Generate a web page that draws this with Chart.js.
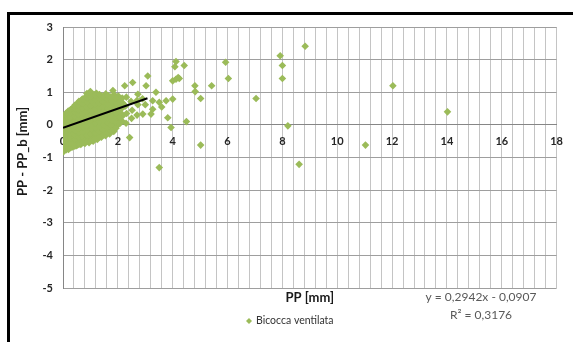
<!DOCTYPE html>
<html lang="it">
<head>
  <meta charset="UTF-8">
  <title>PP - PP_b vs PP</title>
  <style>
    html, body { margin: 0; padding: 0; background: #fff; }
    .chart-box { position: relative; width: 573px; height: 342px; }
  </style>
</head>
<body>
  <div class="chart-box"><canvas id="scatterChart" width="573" height="342"></canvas></div>
  <script src="https://cdn.jsdelivr.net/npm/chart.js"></script>
  <script>
    // dense cloud near the origin (column by column)
    const clusterPoints = [
      [0.02,-0.82],[0.05,-0.7],[0.03,-0.55],[0.06,-0.42],[0.02,-0.3],[0.07,-0.18],[0.04,-0.05],[0.02,0.08],[0.06,0.2],[0.04,0.3],
      [0.2,-0.75],[0.18,-0.6],[0.22,-0.48],[0.19,-0.33],[0.23,-0.2],[0.17,-0.08],[0.21,0.05],[0.2,0.17],[0.24,0.3],[0.19,0.42],
      [0.35,-0.68],[0.37,-0.52],[0.33,-0.4],[0.36,-0.26],[0.34,-0.12],[0.38,0.02],[0.35,0.14],[0.33,0.27],[0.37,0.4],[0.36,0.52],
      [0.5,-0.64],[0.52,-0.5],[0.49,-0.36],[0.53,-0.22],[0.5,-0.1],[0.48,0.05],[0.52,0.18],[0.5,0.32],[0.54,0.45],[0.51,0.6],[0.55,0.68],
      [0.65,-0.6],[0.67,-0.45],[0.63,-0.3],[0.66,-0.16],[0.64,-0.03],[0.68,0.11],[0.65,0.25],[0.63,0.38],[0.67,0.52],[0.66,0.66],[0.69,0.78],
      [0.8,-0.57],[0.82,-0.42],[0.78,-0.27],[0.81,-0.13],[0.79,0.02],[0.83,0.16],[0.8,0.3],[0.78,0.44],[0.82,0.58],[0.8,0.72],[0.84,0.86],
      [0.95,-0.55],[0.97,-0.4],[0.93,-0.24],[0.96,-0.1],[0.94,0.05],[0.98,0.2],[0.95,0.34],[0.93,0.48],[0.97,0.62],[0.96,0.76],[0.94,0.9],[1.0,1.02],
      [1.1,-0.5],[1.12,-0.36],[1.08,-0.21],[1.11,-0.06],[1.09,0.08],[1.13,0.23],[1.1,0.37],[1.08,0.51],[1.12,0.65],[1.1,0.8],[1.14,0.93],
      [1.25,-0.45],[1.27,-0.3],[1.23,-0.15],[1.26,-0.02],[1.24,0.13],[1.28,0.27],[1.25,0.42],[1.23,0.56],[1.27,0.7],[1.26,0.84],[1.22,0.97],
      [1.4,-0.38],[1.42,-0.24],[1.38,-0.1],[1.41,0.04],[1.39,0.18],[1.43,0.32],[1.4,0.46],[1.38,0.6],[1.42,0.74],[1.41,0.88],
      [1.55,-0.33],[1.57,-0.18],[1.53,-0.04],[1.56,0.1],[1.54,0.24],[1.58,0.38],[1.55,0.52],[1.53,0.67],[1.57,0.8],[1.56,0.95],
      [1.7,-0.28],[1.72,-0.12],[1.68,0.02],[1.71,0.16],[1.69,0.3],[1.73,0.45],[1.7,0.58],[1.68,0.72],[1.72,0.86],
      [1.85,-0.2],[1.87,-0.06],[1.83,0.08],[1.86,0.22],[1.84,0.37],[1.88,0.5],[1.85,0.64],[1.83,0.78],[1.87,0.92],
      [2.0,0.0],[2.02,0.17],[1.98,0.3],[2.01,0.44],[2.03,0.6],[1.99,0.75],[2.02,0.88],
      [2.15,0.12],[2.18,0.28],[2.14,0.5],[2.17,0.68],[2.16,0.82],
      [2.3,0.05],[2.32,0.35],[2.28,0.58],[2.31,0.85],
      [2.5,0.2],[2.52,0.45],[2.48,0.72],
      [2.7,0.3],[2.73,0.62],[2.73,0.94],[2.7,0.75]
    ];

    // more cloud points sitting between the columns above
    const clusterFill = [
      [0.12,-0.76],[0.11,-0.62],[0.13,-0.49],[0.12,-0.36],[0.1,-0.24],[0.13,-0.11],[0.12,0.02],[0.11,0.14],[0.13,0.26],[0.12,0.36],
      [0.28,-0.7],[0.27,-0.55],[0.29,-0.41],[0.28,-0.27],[0.26,-0.14],[0.29,0.0],[0.28,0.11],[0.27,0.23],[0.29,0.36],[0.28,0.47],
      [0.43,-0.65],[0.42,-0.45],[0.44,-0.32],[0.43,-0.18],[0.41,-0.04],[0.44,0.1],[0.43,0.25],[0.42,0.38],[0.44,0.5],[0.43,0.6],
      [0.58,-0.6],[0.57,-0.38],[0.59,-0.24],[0.58,-0.1],[0.56,0.04],[0.59,0.18],[0.58,0.31],[0.57,0.45],[0.59,0.58],[0.58,0.72],
      [0.73,-0.55],[0.72,-0.35],[0.74,-0.2],[0.73,-0.06],[0.71,0.09],[0.74,0.23],[0.73,0.37],[0.72,0.51],[0.74,0.65],[0.73,0.8],
      [0.88,-0.5],[0.87,-0.32],[0.89,-0.17],[0.88,-0.02],[0.86,0.12],[0.89,0.27],[0.88,0.41],[0.87,0.55],[0.89,0.69],[0.88,0.83],[0.87,0.96],
      [1.03,-0.46],[1.02,-0.28],[1.04,-0.14],[1.03,0.01],[1.01,0.15],[1.04,0.3],[1.03,0.44],[1.02,0.58],[1.04,0.72],[1.03,0.86],
      [1.18,-0.42],[1.17,-0.25],[1.19,-0.1],[1.18,0.05],[1.16,0.2],[1.19,0.34],[1.18,0.49],[1.17,0.63],[1.19,0.77],[1.18,0.9],
      [1.33,-0.38],[1.32,-0.2],[1.34,-0.05],[1.33,0.1],[1.31,0.25],[1.34,0.39],[1.33,0.53],[1.32,0.67],[1.34,0.81],[1.33,0.93],
      [1.48,-0.3],[1.47,-0.15],[1.49,0.0],[1.48,0.14],[1.46,0.28],[1.49,0.43],[1.48,0.57],[1.47,0.71],[1.49,0.86],
      [1.63,-0.24],[1.62,-0.08],[1.64,0.06],[1.63,0.21],[1.61,0.35],[1.64,0.5],[1.63,0.64],[1.62,0.79],[1.64,0.9],
      [1.78,-0.14],[1.77,0.0],[1.79,0.14],[1.78,0.29],[1.76,0.43],[1.79,0.57],[1.78,0.71],[1.77,0.85],
      [1.93,-0.1],[1.92,0.08],[1.94,0.23],[1.93,0.37],[1.91,0.52],[1.94,0.68],[1.93,0.82],
      [2.08,0.05],[2.07,0.22],[2.09,0.38],[2.08,0.55],[2.07,0.72]
    ];

    // scattered points away from the cloud
    const outlierPoints = [
      [8.83,2.41],[7.92,2.12],[8.0,1.82],[8.0,1.42],[5.93,1.92],[6.03,1.42],[4.42,1.82],[4.24,1.42],
      [4.81,1.2],[4.82,1.02],[5.42,1.2],[5.02,0.81],[7.04,0.81],[4.5,0.1],[8.2,-0.03],[5.02,-0.62],
      [11.03,-0.62],[12.03,1.2],[14.02,0.4],[8.61,-1.21],
      [4.12,1.94],[4.08,1.78],[4.0,1.35],[4.12,1.4],[4.2,1.45],[3.09,1.5],[2.54,1.3],[2.25,1.2],
      [3.03,1.2],[3.39,1.0],[1.82,1.05],[0.98,1.0],[3.27,0.74],[3.51,0.69],[3.76,0.74],[4.0,0.79],
      [3.82,0.22],[3.94,-0.08],[2.43,-0.39],[3.51,-1.31],[3.21,0.33],[2.91,0.33],[3.27,0.48],
      [2.9,0.8],[3.6,0.55],[3.0,0.62],[1.76,-0.18],[2.25,0.58]
    ];

    // linear trend y = 0.2942x - 0.0907, drawn over the cloud only
    const trendSlope = 0.2942;
    const trendIntercept = -0.0907;
    const trendRange = [0, 3.08];

    const xTicks = [0, 2, 4, 6, 8, 10, 12, 14, 16, 18];
    const yTicks = [-5, -4, -3, -2, -1, 0, 1, 2, 3];

    const seriesName = 'Bicocca ventilata';
    const xTitle = 'PP [mm]';
    const yTitle = 'PP - PP_b [mm]';
    const eqLine1 = 'y = 0,2942x - 0,0907';
    const eqLine2 = 'R\u00b2 = 0,3176';

    const green = '#9bbb59';
    const fontFam = 'Lato, "Liberation Sans", sans-serif';

    const scatterData = clusterPoints.concat(clusterFill, outlierPoints).map(p => ({ x: p[0], y: p[1] }));
    const trendData = trendRange.map(x => ({ x: x, y: trendSlope * x + trendIntercept }));

    // frame, axis titles, legend and equation drawn on top
    const extrasPlugin = {
      id: 'extras',
      afterDraw(chart) {
        const ctx = chart.ctx;
        const area = chart.chartArea;
        ctx.save();
        // outer frame (top and left edges only are visible)
        ctx.strokeStyle = '#000';
        ctx.lineWidth = 3;
        ctx.beginPath();
        ctx.moveTo(573, 13.5);
        ctx.lineTo(8.5, 13.5);
        ctx.lineTo(8.5, 342);
        ctx.stroke();

        ctx.fillStyle = '#1a1a1a';
        ctx.font = 'bold 13px ' + fontFam;
        ctx.textAlign = 'center';
        ctx.textBaseline = 'middle';
        ctx.fillText(xTitle, (area.left + area.right) / 2, 298);

        ctx.save();
        ctx.translate(23, (area.top + area.bottom) / 2 - 6);
        ctx.rotate(-Math.PI / 2);
        ctx.fillText(yTitle, 0, 0);
        ctx.restore();

        // legend
        ctx.fillStyle = green;
        ctx.beginPath();
        ctx.moveTo(249, 318);
        ctx.lineTo(252, 321);
        ctx.lineTo(249, 324);
        ctx.lineTo(246, 321);
        ctx.closePath();
        ctx.fill();
        ctx.fillStyle = '#333';
        ctx.font = '10.5px ' + fontFam;
        ctx.textAlign = 'left';
        ctx.fillText(seriesName, 256, 321);

        // trend equation
        ctx.fillStyle = '#595959';
        ctx.font = '12px ' + fontFam;
        ctx.textAlign = 'center';
        ctx.fillText(eqLine1, 481, 297);
        ctx.fillText(eqLine2, 481, 315);
        ctx.restore();
      }
    };

    new Chart(document.getElementById('scatterChart'), {
      type: 'scatter',
      data: {
        datasets: [
          {
            label: 'Linear trend',
            type: 'line',
            data: trendData,
            borderColor: '#000',
            borderWidth: 2,
            pointRadius: 0,
            fill: false,
            order: 0
          },
          {
            label: seriesName,
            data: scatterData,
            backgroundColor: green,
            borderColor: green,
            borderWidth: 0,
            pointStyle: 'rectRot',
            pointRadius: 3.8,
            order: 1
          }
        ]
      },
      options: {
        responsive: false,
        animation: false,
        layout: { padding: { left: 33, right: 13, top: 27, bottom: 54 } },
        plugins: {
          legend: { display: false },
          tooltip: { enabled: false }
        },
        scales: {
          x: {
            type: 'linear',
            position: { y: 0 },
            min: xTicks[0],
            max: xTicks[xTicks.length - 1],
            ticks: {
              stepSize: 0.4,
              autoSkip: false,
              maxRotation: 0,
              padding: 10,
              color: '#262626',
              font: { family: fontFam, size: 11, weight: 'bold' },
              callback: v => {
                const hit = xTicks.find(t => Math.abs(t - v) < 1e-6);
                return hit === undefined ? '' : String(hit);
              }
            },
            grid: { color: '#c4c4c4', drawTicks: false, lineWidth: 1 },
            border: { color: '#868686', width: 1 }
          },
          y: {
            min: yTicks[0],
            max: yTicks[yTicks.length - 1],
            afterFit: scale => { scale.width = 30; },
            ticks: {
              stepSize: 1,
              padding: 10,
              color: '#262626',
              font: { family: fontFam, size: 11, weight: 'bold' }
            },
            grid: { color: '#9e9e9e', drawTicks: false, lineWidth: 1 },
            border: { color: '#868686', width: 1 }
          }
        }
      },
      plugins: [extrasPlugin]
    });
  </script>
</body>
</html>
